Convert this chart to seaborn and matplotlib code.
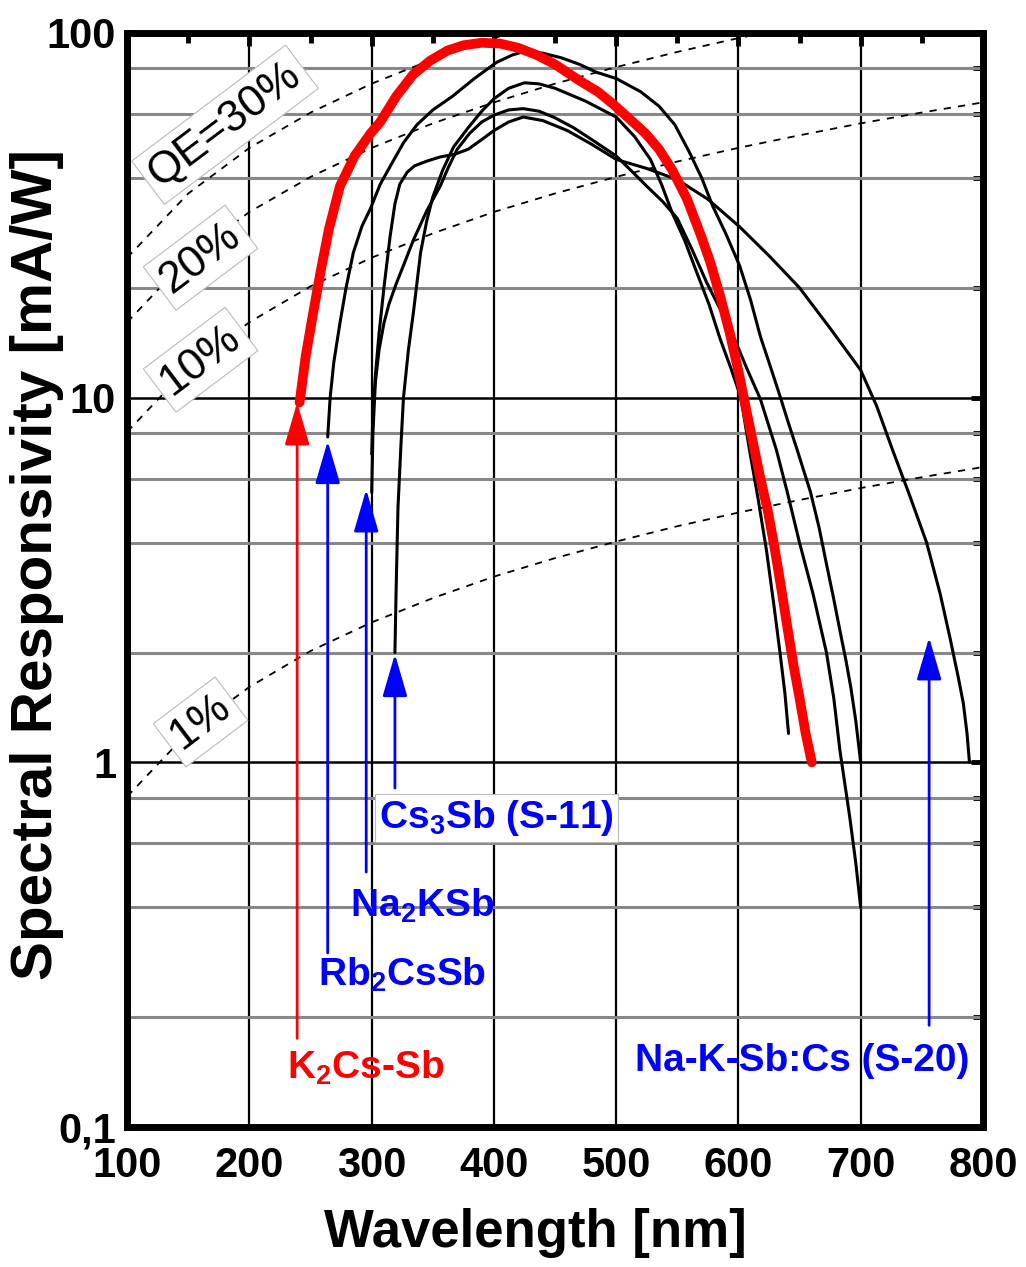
import matplotlib
matplotlib.use("Agg")
from matplotlib import pyplot as plt
from matplotlib.ticker import FixedLocator, NullFormatter
import seaborn as sns

# --- data ------------------------------------------------------------------
k2cssb_nm = [241, 246, 252, 258, 265, 274, 286, 299, 307, 320, 334, 348, 362,
             375, 390, 405, 420, 435, 450, 470, 485, 497, 510, 524, 535, 546,
             558, 569, 577, 585, 593, 600, 606, 612, 618, 624, 630, 635, 640,
             645, 650, 655, 660]
k2cssb_resp = [9.7, 13, 17, 22, 29, 38, 46, 53, 57, 67, 77, 84, 89.5,
               92.5, 94, 93.5, 91, 87, 82, 74, 69, 64, 58.5, 53, 48, 42,
               35, 28, 23.5, 19, 15, 11.8, 9.4, 7.5, 6.0, 4.9, 3.8, 3.0, 2.35,
               1.85, 1.5, 1.2, 1.0]

rb2cssb_nm = [264, 266, 269, 274, 279, 285, 292, 299, 307, 315, 326, 337, 350,
              366, 384, 402, 415, 425, 440, 455, 470, 484, 500, 520, 535, 548,
              560, 570, 579, 590, 601, 610, 618, 626, 634, 641, 648, 659, 666,
              672, 678, 683, 688, 692, 696, 700]
rb2cssb_resp = [7.8, 10, 12.5, 16, 20, 25, 29.5, 33, 38.5, 43, 50, 56, 61.5,
                67, 75, 83, 87, 89, 88, 85.5, 82, 78, 75, 69, 63, 56,
                47, 40, 33.5, 28, 23, 18.5, 14.7, 12.2, 10.1, 8.5, 7.2, 5.5,
                4.4, 3.5, 2.8, 2.3, 1.9, 1.6, 1.3, 1.0]

na2ksb_nm = [300, 301, 303, 306, 310, 314, 320, 327, 334, 345, 356, 363, 370,
             380, 390, 400, 412, 424, 437, 450, 465, 480, 500, 512, 525, 538,
             550, 562, 574, 585, 596, 607, 618, 631, 640, 650, 661, 672, 678,
             683, 691, 696, 700]
na2ksb_resp = [5.5, 8, 11, 13.5, 16, 18, 20.5, 23.5, 27, 32.5, 38, 43, 48,
               53, 57, 59.5, 61.5, 62, 61, 58.5, 55, 51, 46, 42, 38, 34.5,
               31, 25.5, 20.7, 17.5, 14.7, 12, 9.9, 7.2, 5.5, 4.0, 2.9, 2.0,
               1.5, 1.08, 0.71, 0.53, 0.4]

cs3sb_nm = [319, 320, 321.5, 324, 326, 330, 334, 340, 345, 350, 358, 367, 379,
            390, 400, 412, 425, 437, 450, 475, 500, 515, 528, 537, 546, 556,
            566, 576, 585, 594, 602, 609, 616, 623, 629, 634, 638, 641]
cs3sb_resp = [2.0, 3.0, 5.0, 7.5, 10, 13.5, 17, 25, 30.5, 35.5, 42, 48.7, 55,
              61, 66, 70.5, 73, 72.5, 70.5, 65, 58.8, 52, 45, 38.5, 32, 27,
              22, 18, 14.5, 12, 10, 7.2, 5.3, 3.8, 2.7, 2.0, 1.55, 1.2]

s20_nm = [300, 301, 303, 306, 310, 315, 319, 323, 329, 335, 345, 356, 368,
          379, 390, 400, 412, 424, 440, 460, 480, 500, 525, 550, 575, 601,
          625, 650, 675, 700, 713, 726, 740, 754, 765, 773, 780, 784, 787,
          789]
s20_resp = [7, 9, 11.5, 15, 20, 27.6, 34, 38.5, 41.5, 43.2, 44.5, 45.7, 46.5,
            48, 51, 54, 57, 58.8, 57.5, 54, 49.5, 45, 42.5, 39.6, 35, 29.4,
            24.5, 20, 15.5, 11.9, 9.5, 7.2, 5.4, 4.0, 2.9, 2.2, 1.7, 1.45,
            1.2, 1.0]

# constant quantum-efficiency guide lines (mA/W), read at 50 nm steps
qe_nm = [100, 150, 200, 250, 300, 350, 400, 450, 500, 550, 600, 650, 700,
         750, 800]
qe30_resp = [24.2, 36.3, 48.4, 60.5, 72.6, 84.7, 96.8, 108.9, None, None,
             None, None, None, None, None]
qe20_resp = [16.1, 24.2, 32.3, 40.3, 48.4, 56.5, 64.5, 72.6, 80.6, 88.7,
             96.8, 104.8, None, None, None]
qe10_resp = [8.06, 12.1, 16.1, 20.2, 24.2, 28.2, 32.3, 36.3, 40.3, 44.4,
             48.4, 52.4, 56.5, 60.5, 64.5]
qe1_resp = [0.806, 1.21, 1.61, 2.02, 2.42, 2.82, 3.23, 3.63, 4.03, 4.44,
            4.84, 5.24, 5.65, 6.05, 6.45]

x_ticks = [100, 200, 300, 400, 500, 600, 700, 800]
y_ticks = [0.1, 1, 10, 100]
y_tick_labels = ["0,1", "1", "10", "100"]

# --- style -----------------------------------------------------------------
sns.set_style("white")
plt.rcParams["font.family"] = ["Liberation Sans", "DejaVu Sans"]
plt.rcParams["text.color"] = "black"
plt.rcParams["axes.labelcolor"] = "black"
plt.rcParams["xtick.color"] = "black"
plt.rcParams["ytick.color"] = "black"
plt.rcParams["mathtext.fontset"] = "custom"
plt.rcParams["mathtext.rm"] = "Liberation Sans:bold"
plt.rcParams["mathtext.it"] = "Liberation Sans:bold"
plt.rcParams["mathtext.bf"] = "Liberation Sans:bold"

fig = plt.figure(figsize=(10.26, 12.67), dpi=100)
ax = fig.add_axes([0.124, 0.1105, 0.834, 0.8635])

# grid lines
for x in [200, 300, 400, 500, 600, 700]:
    ax.axvline(x, color="black", lw=1.6, zorder=1)
for y in [0.2, 0.4, 0.6, 0.8, 2, 4, 6, 8, 20, 40, 60, 80]:
    ax.axhline(y, color="#888888", lw=2.2, zorder=1)
for y in [1, 10]:
    ax.axhline(y, color="black", lw=1.8, zorder=1)

# QE guide lines
for vals in [qe30_resp, qe20_resp, qe10_resp, qe1_resp]:
    pts = [(x, v) for x, v in zip(qe_nm, vals) if v is not None]
    sns.lineplot(x=[p[0] for p in pts], y=[p[1] for p in pts], ax=ax,
                 color="black", lw=1.3, linestyle=(0, (4, 4)), zorder=2)

# responsivity curves
for xs, ys in [(rb2cssb_nm, rb2cssb_resp), (na2ksb_nm, na2ksb_resp),
               (cs3sb_nm, cs3sb_resp), (s20_nm, s20_resp)]:
    sns.lineplot(x=xs, y=ys, ax=ax, sort=False, color="black", lw=2.2,
                 zorder=3, solid_joinstyle="round")
sns.lineplot(x=k2cssb_nm, y=k2cssb_resp, ax=ax, sort=False, color="#ff0000",
             lw=7, zorder=4, solid_capstyle="round", solid_joinstyle="round")

ax.set_yscale("log")
ax.set_xlim(100, 800)
ax.set_ylim(0.1, 100)

ax.xaxis.set_major_locator(FixedLocator(x_ticks))
ax.xaxis.set_minor_locator(FixedLocator([150, 250, 350, 450, 550, 650, 750]))
ax.set_xticklabels([str(t) for t in x_ticks])
ax.yaxis.set_major_locator(FixedLocator(y_ticks))
ax.yaxis.set_minor_locator(FixedLocator([0.2, 0.4, 0.6, 0.8, 2, 4, 6, 8,
                                         20, 40, 60, 80]))
ax.yaxis.set_minor_formatter(NullFormatter())
ax.set_yticklabels(y_tick_labels)

ax.tick_params(which="major", direction="in", length=9, width=3.5,
               top=True, right=True, labelsize=30, colors="black")
ax.tick_params(axis="x", which="major", pad=14)
ax.tick_params(axis="y", which="major", pad=8)
ax.tick_params(which="minor", direction="in", length=7, width=3.5,
               top=True, right=True, colors="black")
for lab in ax.get_xticklabels() + ax.get_yticklabels():
    lab.set_fontweight("bold")
for sp in ax.spines.values():
    sp.set_linewidth(5)
    sp.set_color("black")
    sp.set_zorder(6)

ax.set_xlabel("Wavelength [nm]", fontsize=38, fontweight="bold")
ax.set_ylabel("Spectral Responsivity [mA/W]", fontsize=42, fontweight="bold")
ax.xaxis.set_label_coords(0.477, -0.097)
ax.yaxis.set_label_coords(-0.105, 0.514)
ax.xaxis.label.set_va("center")
ax.yaxis.label.set_va("center")

# QE labels
box = dict(boxstyle="square,pad=0.15", fc="white", ec="#bbbbbb", lw=0.8)
ax.text(180, 56, "QE=30%", rotation=37, fontsize=32, ha="center",
        va="center", bbox=box, zorder=5)
ax.text(160, 24.2, "20%", rotation=37, fontsize=32, ha="center",
        va="center", bbox=box, zorder=5)
ax.text(160, 12.7, "10%", rotation=37, fontsize=32, ha="center",
        va="center", bbox=box, zorder=5)
ax.text(160, 1.29, "1%", rotation=37, fontsize=32, ha="center",
        va="center", bbox=box, zorder=5)

# material labels with arrows
head = "-|>,head_length=1.2,head_width=0.35"
arrows = [
    ("K$_2$Cs-Sb", "#ff0000", 239, 0.175, 239, 9.7, 295, 0.145),
    ("Rb$_2$CsSb", "#0000ff", 264, 0.30, 264, 7.6, 325, 0.262),
    ("Na$_2$KSb", "#0000ff", 295.5, 0.50, 295.5, 5.6, 341, 0.405),
    ("Na-K-Sb:Cs (S-20)", "#0000ff", 756, 0.19, 756, 2.2, 652, 0.152),
]
for label, col, x0, y0, x1, y1, tx, ty in arrows:
    ax.annotate("", xy=(x1, y1), xytext=(x0, y0),
                arrowprops=dict(arrowstyle=head, color=col, lw=2,
                                mutation_scale=22, shrinkA=0, shrinkB=0),
                zorder=5)
    ax.text(tx, ty, label, color=col, fontsize=28, fontweight="bold",
            ha="center", va="center", zorder=5)

ax.annotate("", xy=(319, 1.98), xytext=(319, 0.85),
            arrowprops=dict(arrowstyle=head, color="#0000ff", lw=2,
                            mutation_scale=22, shrinkA=0, shrinkB=0),
            zorder=5)
ax.text(402, 0.705, "Cs$_3$Sb (S-11)", color="#0000ff", fontsize=28,
        fontweight="bold", ha="center", va="center", zorder=5,
        bbox=dict(boxstyle="square,pad=0.1", fc="white", ec="#bbbbbb", lw=0.8))

fig.savefig("out.png", dpi=100)
